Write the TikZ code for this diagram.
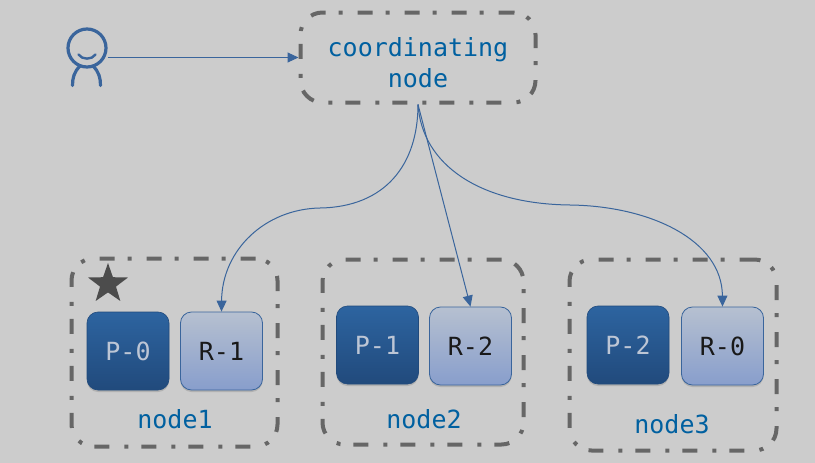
\documentclass[tikz,border=0pt]{standalone}
\usepackage{fontspec}
\setmonofont{DejaVu Sans Mono}
\usetikzlibrary{shapes.geometric, arrows.meta, shadows}
\definecolor{bggray}{RGB}{204,204,204}
\definecolor{framegray}{RGB}{102,102,102}
\definecolor{labelblue}{RGB}{0,96,160}
\definecolor{linkblue}{RGB}{58,101,156}
\definecolor{primtop}{RGB}{45,100,160}
\definecolor{primbot}{RGB}{33,74,124}
\definecolor{reptop}{RGB}{182,192,208}
\definecolor{repbot}{RGB}{136,158,204}
\tikzset{
  %% ---- boxes ----
  framebox/.style = {rectangle, rounded corners=22pt, draw=framegray,
                   line width=4pt, inner sep=0pt, align=center,
                   dash pattern=on 15pt off 15pt on 4pt off 13pt,
                   text=labelblue, font=\ttfamily\fontsize{25}{31}\selectfont},
  primary/.style = {rectangle, rounded corners=11pt, draw=primbot, line width=0.6pt,
                   top color=primtop, bottom color=primbot,
                   minimum width=82pt, minimum height=78pt, inner sep=0pt,
                   text=reptop!90!white, font=\ttfamily\fontsize{25}{28}\selectfont,
                   drop shadow={shadow xshift=0pt, shadow yshift=-2pt, opacity=0.35}},
  replica/.style = {rectangle, rounded corners=11pt, draw=linkblue, line width=0.8pt,
                   top color=reptop, bottom color=repbot,
                   minimum width=82pt, minimum height=78pt, inner sep=0pt,
                   text=black!90, font=\ttfamily\fontsize{25}{28}\selectfont,
                   drop shadow={shadow xshift=0pt, shadow yshift=-2pt, opacity=0.35}},
  hostlabel/.style = {text=labelblue, inner sep=0pt,
                   font=\ttfamily\fontsize{25}{28}\selectfont},
  %% ---- arrows ----
  link/.style = {-{Triangle[length=11pt, width=10pt]}, line width=1pt, color=linkblue},
  usericon/.style = {line width=3.2pt, color=linkblue, line cap=round},
}

\begin{document}
\begin{tikzpicture}[x=1pt, y=-1pt]

  \fill[bggray] (0,0) rectangle (815,463);
  \useasboundingbox (0,0) rectangle (815,463);

  %% ---- frames ----
  \node[framebox, minimum width=235pt, minimum height=90pt] (coord) at (418,57.5)
    {\rule{0pt}{30pt}coordinating\\node};
  \node[framebox, minimum width=206pt, minimum height=188pt] (host1) at (174.5,352.5) {};
  \node[framebox, minimum width=201pt, minimum height=185pt] (host2) at (423,352) {};
  \node[framebox, minimum width=207pt, minimum height=191pt] (host3) at (673,355) {};

  %% ---- shards ----
  \node[primary] (p0) at (128,351) {P-0};
  \node[replica] (r1) at (221.5,351) {R-1};
  \node[primary] (p1) at (377.5,345) {P-1};
  \node[replica] (r2) at (470.5,346) {R-2};
  \node[primary] (p2) at (628,345) {P-2};
  \node[replica] (r0) at (722.5,346) {R-0};

  \node[hostlabel] (name1) at (175,419) {node1};
  \node[hostlabel] (name2) at (424,419) {node2};
  \node[hostlabel] (name3) at (672,424) {node3};

  \node[star, star points=5, star point ratio=2.5, fill=black!70, inner sep=0pt,
        minimum size=42pt] (leader) at (108,284) {};

  %% ---- user ----
  \draw[usericon] (87,48) circle (19);
  \draw[usericon, line width=2.4pt] (78.5,54.5) .. controls (82,60) and (92,60) .. (95.5,54.5);
  \draw[usericon] (80,66) .. controls (74,72) and (72.5,78) .. (72.5,85.5);
  \draw[usericon] (93,66) .. controls (99,72) and (100.5,78) .. (100.5,85.5);
  \coordinate (user) at (107.5,57.5);

  %% ---- links ----
  \draw[link] (user) -- (coord.west);
  \draw[link] (coord.south) .. controls (418,165) and (385,207) .. (320,208)
    .. controls (265,209) and (222,250) .. (r1.north);
  \draw[link] (coord.south) -- (r2.north);
  \draw[link] (coord.south) .. controls (422,165) and (480,204) .. (570,205)
    .. controls (650,206) and (722,240) .. (r0.north);

\end{tikzpicture}
\end{document}
